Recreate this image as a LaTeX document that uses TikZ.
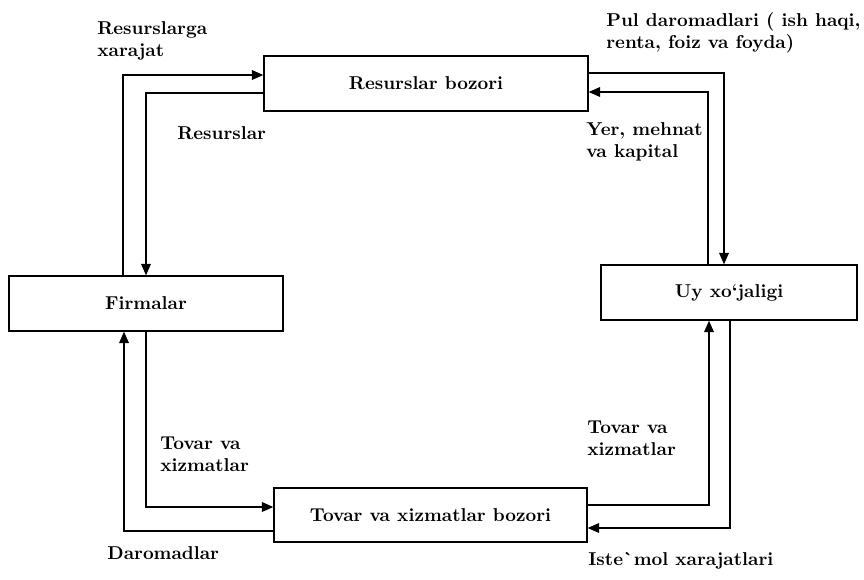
\documentclass[tikz,border=0pt]{standalone}
\usepackage{tikz}
\usetikzlibrary{arrows.meta, positioning, calc}

\begin{document}
\begin{tikzpicture}[x=0.02cm, y=-0.02cm,
    box/.style={draw, line width=0.8pt, inner sep=0pt, font=\fontsize{10.6}{12.5}\selectfont\bfseries},
    flow/.style={line width=0.8pt, -{Triangle[length=6.5pt, width=5.5pt]}},
    lbl/.style={anchor=west, align=left, inner sep=0pt, font=\fontsize{10.6}{12.5}\selectfont\bfseries}]
  \useasboundingbox (0, 0) rectangle (864, 579);

  % Markets and sectors
  \node[box, minimum width=6.48cm, minimum height=1.1cm] (res) at (426, 83.5) {Resurslar bozori};
  \node[box, minimum width=5.48cm, minimum height=1.1cm] (firm) at (146, 303.5) {Firmalar};
  \node[box, minimum width=5.12cm, minimum height=1.1cm] (uy) at (729, 292.5) {Uy xo‘jaligi};
  \node[box, minimum width=6.26cm, minimum height=1.08cm] (tov) at (430.5, 515) {Tovar va xizmatlar bozori};

  % Flows: firms and resource market
  \draw[flow] ($(firm.north)+(-23, 0)$) |- ($(res.west)+(0, -8.5)$);
  \draw[flow] ($(res.west)+(0, 9.5)$) -| (firm.north);
  % Flows: resource market and households
  \draw[flow] ($(res.east)+(0, -10.5)$) -| ($(uy.north)+(-5, 0)$);
  \draw[flow] ($(uy.north)+(-21, 0)$) |- ($(res.east)+(0, 8.5)$);
  % Flows: firms and goods market
  \draw[flow] (firm.south) |- ($(tov.west)+(0, -8)$);
  \draw[flow] ($(tov.west)+(0, 16)$) -| ($(firm.south)+(-22, 0)$);
  % Flows: goods market and households
  \draw[flow] ($(tov.east)+(0, -10)$) -| ($(uy.south)+(-20, 0)$);
  \draw[flow] ($(uy.south)+(1, 0)$) |- ($(tov.east)+(0, 13)$);

  % Labels
  \node[lbl] (xarajat) at (97, 41) {Resurslarga\\xarajat};
  \node[lbl] (resurs) at (177, 133) {Resurslar};
  \node[lbl] (pul) at (606, 33) {Pul daromadlari ( ish haqi,\\renta, foiz va foyda)};
  \node[lbl] (yer) at (586, 142) {Yer, mehnat\\va kapital};
  \node[lbl] (tovchap) at (160, 454) {Tovar va\\xizmatlar};
  \node[lbl] (daromad) at (107, 553) {Daromadlar};
  \node[lbl] (tovong) at (587, 438) {Tovar va\\xizmatlar};
  \node[lbl] (istemol) at (588, 561) {Iste\textasciigrave mol xarajatlari};
\end{tikzpicture}
\end{document}
